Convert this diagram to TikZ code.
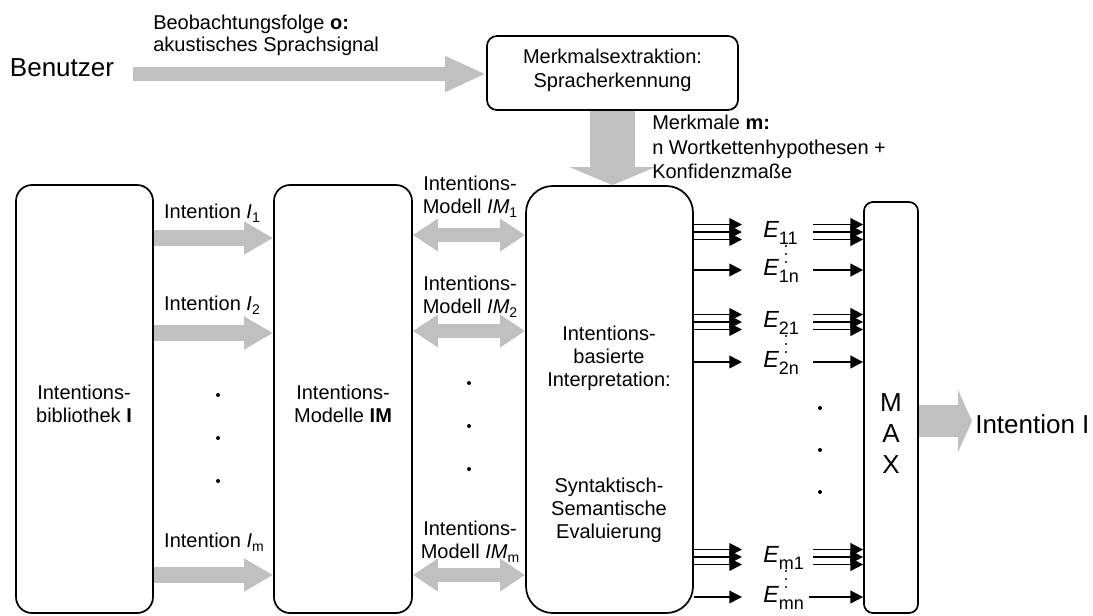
\documentclass[tikz,border=0pt]{standalone}
\usepackage{fontspec}
\setmainfont{Liberation Sans}
\usetikzlibrary{arrows.meta}
\definecolor{flowgray}{RGB}{192,192,192}
\pgfdeclarelayer{bg}
\pgfsetlayers{bg,main}

% small lowered indices
\newcommand\lo[1]{\raisebox{-0.22em}{\fontsize{10.5}{10.5}\selectfont #1}}
\newcommand\elo[1]{\raisebox{-0.3em}{\fontsize{13.5}{13.5}\selectfont #1}}
\newcommand\Elab[1]{{\itshape E}\elo{#1}}

\begin{document}
\begin{tikzpicture}[x=0.75pt,y=-0.75pt,
  txt/.style={inner sep=0pt, align=center, font=\fontsize{15}{17.25}\selectfont},
  big/.style={inner sep=0pt, font=\fontsize{19.5}{22}\selectfont},
  blk/.style={draw, line width=1.3pt, inner sep=0pt},
  fat/.style n args={3}{draw=flowgray, line width=#1, -{Triangle[length=#2,width=#3]}},
  fatboth/.style n args={3}{draw=flowgray, line width=#1, {Triangle[length=#2,width=#3]}-{Triangle[length=#2,width=#3]}},
  earrow/.style={line width=1.3pt, -{Triangle[length=9.5pt,width=9.5pt]}},
  elab/.style={inner sep=0pt, anchor=west, font=\fontsize{17.5}{17.5}\selectfont}
]
\useasboundingbox (0,0) rectangle (1093,615);

% ---------- blocks ----------
\node[blk, rounded corners=7.5pt, minimum width=188.25pt, minimum height=55.5pt] (mx) at (612.5,73) {};
\node[blk, rounded corners=12pt, minimum width=102.75pt, minimum height=321pt] (lib) at (84.5,399) {};
\node[blk, rounded corners=12pt, minimum width=103.5pt, minimum height=321pt] (im) at (343,399) {};
\node[blk, rounded corners=20pt, minimum width=125.25pt, minimum height=320.25pt] (interp) at (609.5,399.5) {};
\node[blk, rounded corners=6.75pt, minimum width=40.5pt, minimum height=308.25pt] (max) at (891,407.5) {};

% ---------- texts ----------
\node[big] (user) at (62,68) {Benutzer};
\node[big, anchor=west] (res) at (975,424) {Intention I};
\node[txt, anchor=west, align=left, font=\fontsize{15}{16.5}\selectfont] (obs) at (153,35)
  {Beobachtungsfolge \textbf{o:}\\akustisches Sprachsignal};
\node[txt, font=\fontsize{15}{18}\selectfont] (mxt) at (612.5,70) {Merkmalsextraktion:\\Spracherkennung};
\node[txt, anchor=west, align=left, font=\fontsize{15}{18.5}\selectfont] (feat) at (652,147)
  {Merkmale \textbf{m:}\\n Wortkettenhypothesen +\\Konfidenzmaße};

\node[txt] (libt) at (84,404) {Intentions-\\bibliothek \textbf{I}};
\node[txt] (imt) at (343,404) {Intentions-\\Modelle \textbf{IM}};
\node[txt] (interpa) at (609,358) {Intentions-\\basierte\\Interpretation:};
\node[txt] (interpb) at (609,510) {Syntaktisch-\\Semantische\\Evaluierung};
\node[big, align=center, font=\fontsize{19.5}{23.25}\selectfont] (maxt) at (891,434) {M\\A\\X};

\node[txt] (i1) at (212,213) {Intention \textit{I}\lo{1}};
\node[txt] (i2) at (212,305) {Intention \textit{I}\lo{2}};
\node[txt] (im_) at (214,542) {Intention \textit{I}\lo{m}};
\node[txt] (m1) at (470,197) {Intentions-\\Modell \textit{IM}\lo{1}};
\node[txt] (m2) at (470,297) {Intentions-\\Modell \textit{IM}\lo{2}};
\node[txt] (mm) at (470,541.5) {Intentions-\\Modell \textit{IM}\lo{m}};

% ---------- gray flow arrows ----------
\begin{pgfonlayer}{bg}
\coordinate (u0) at (133,74);
\draw[fat={10.5pt}{30.75pt}{24.75pt}] (u0) -- (mx.west |- u0);
\draw[fat={33.75pt}{13.5pt}{63.75pt}] (mx.south) -- (mx.south |- interp.north);
\foreach \y in {238,333,575}
  \draw[fat={12pt}{21.75pt}{23.25pt}] (lib.east |- 0,\y) -- (im.west |- 0,\y);
\foreach \y in {235,331,575}
  \draw[fatboth={10.5pt}{18.75pt}{23.25pt}] (im.east |- 0,\y) -- (interp.west |- 0,\y);
\coordinate (r0) at (972,421);
\draw[fat={24pt}{10.5pt}{46.5pt}] (max.east |- r0) -- (r0);
\end{pgfonlayer}

% ---------- dots ----------
\foreach \y in {395,438,481} \fill (218,\y) circle[radius=1.5pt];
\foreach \y in {383,426,469} \fill (469,\y) circle[radius=1.5pt];
\foreach \y in {408,450,492} \fill (820,\y) circle[radius=1.5pt];

% ---------- evaluation results ----------
\foreach \ty/\sy/\a/\b/\rs [count=\k] in {232/270/11/1n/813, 322/362/21/2n/813, 557/597/m1/mn/809} {
  \node[elab] (ea\k) at (763,\ty+1) {\Elab{\a}};
  \node[elab] (eb\k) at (763,\sy+1) {\Elab{\b}};
  \foreach \d in {-7.5,0,7.5} {
    \pgfmathsetmacro\yy{\ty+\d}
    \draw[earrow] (interp.east |- 0,\yy) -- (742,\yy);
    \draw[earrow] (813,\yy) -- (max.west |- 0,\yy);
  }
  \draw[earrow] (interp.east |- 0,\sy) -- (742,\sy);
  \draw[earrow] (\rs,\sy) -- (max.west |- 0,\sy);
  \foreach \d in {14,22,30} \fill (786,\ty+\d) circle[radius=0.85pt];
}
\end{tikzpicture}
\end{document}
